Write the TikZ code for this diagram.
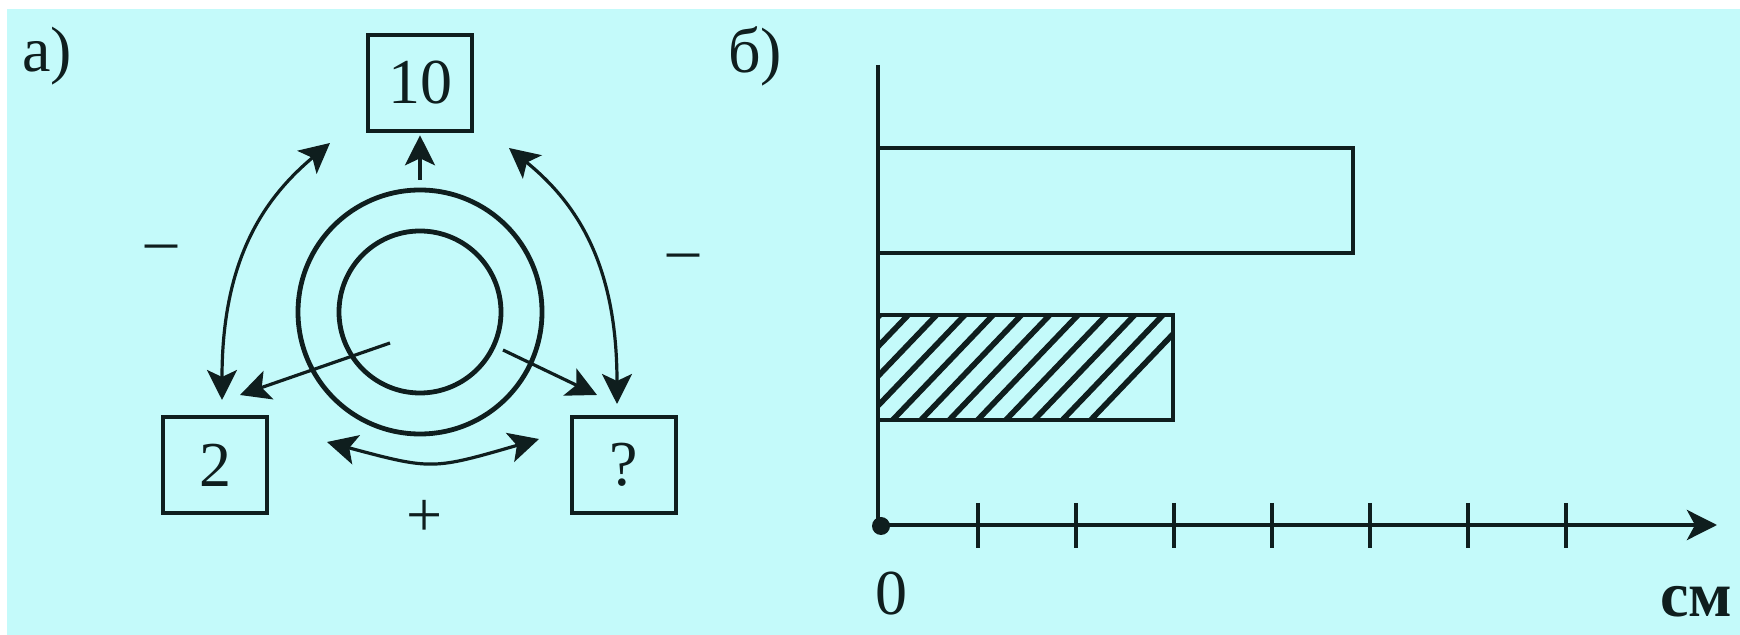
\documentclass[tikz,border=0pt]{standalone}
\usepackage{fontspec}
\setmainfont{Liberation Serif}
\usetikzlibrary{arrows.meta}
\definecolor{bgcyan}{RGB}{196,250,250}
\definecolor{ink}{RGB}{15,30,30}
\newcommand\figfont{\fontsize{32}{38}\selectfont}
\begin{document}
\begin{tikzpicture}[x=0.5pt,y=-0.5pt,
  box/.style={draw=ink, line width=2.3pt, minimum width=52pt, minimum height=48pt, inner sep=0pt, font=\figfont, text=ink},
  ring/.style={circle, draw=ink, line width=2.4pt, inner sep=0pt},
  arr/.style={draw=ink, line width=1.6pt, -{Stealth[length=15pt,width=15pt,inset=3.5pt]}},
  darr/.style={draw=ink, line width=1.6pt, {Stealth[length=15pt,width=15pt,inset=3.5pt]}-{Stealth[length=15pt,width=15pt,inset=3.5pt]}},
  lbl/.style={font=\figfont, text=ink, inner sep=0pt},
  axis/.style={draw=ink, line width=2.2pt},
  bar/.style={draw=ink, line width=2.4pt},
  hatch/.style={draw=ink, line width=2.8pt}]
\useasboundingbox (0,0) rectangle (1740,635);
\fill[white] (0,0) rectangle (1740,635);
\fill[bgcyan] (7,9) rectangle (1740,635);

% ---------- part a ----------
\node[lbl, anchor=base west] (la) at (22,72) {а)};
\node[box] (b10) at (420,83) {10};
\node[box] (b2) at (215,465) {2};
\node[box] (bq) at (624,465) {?};
\node[ring, minimum size=122pt] (outer) at (420,312) {};
\node[ring, minimum size=81pt] (inner) at (420,312) {};

\coordinate (s2) at (390,343);
\coordinate (t2) at (240,395);
\coordinate (sq) at (503,350);
\coordinate (tq) at (597,395);
\coordinate (lb) at (222,400);
\coordinate (lt) at (330,143);
\coordinate (rb) at (617,404);
\coordinate (rt) at (509,148);
\coordinate (bl) at (327,442);
\coordinate (br) at (539,439);

\draw[arr, shorten >=1pt] ([yshift=4pt]outer.north) -- (b10.south);
\draw[arr] (s2) -- (t2);
\draw[arr] (sq) -- (tq);
\draw[darr] (lb) .. controls (222,262) and (262,200) .. (lt);
\draw[darr] (rb) .. controls (617,266) and (578,204) .. (rt);
\draw[darr] (bl) .. controls (432,470) .. (br);

\node[lbl] (m1) at (161,253) {–};
\node[lbl] (m2) at (683,262) {–};
\node[lbl] (pl) at (425,518) {+};

% ---------- part b ----------
\node[lbl, anchor=base west] (lb2) at (728,73) {б)};
\draw[axis] (878,65) -- (878,525);
\draw[axis, -{Stealth[length=15pt,width=15pt,inset=4pt]}] (878,525) -- (1717,525);
\fill[ink] (881,526) circle (4.5pt);
\foreach \k in {1,...,7} \draw[axis] (880+98*\k,503) -- (880+98*\k,548);

\draw[bar] (878,148) rectangle (1353,253);
\begin{scope}
  \clip (878,315) rectangle (1173,420);
  \foreach \k in {-4,...,10} \draw[hatch] (913+28.3*\k,310) -- (913+28.3*\k-110,425);
\end{scope}
\draw[bar] (878,315) rectangle (1173,420);

\node[lbl] (zero) at (891,594) {0};
\node[lbl, anchor=base, font=\figfont\bfseries] (cm) at (1696,617) {см};
\end{tikzpicture}
\end{document}
